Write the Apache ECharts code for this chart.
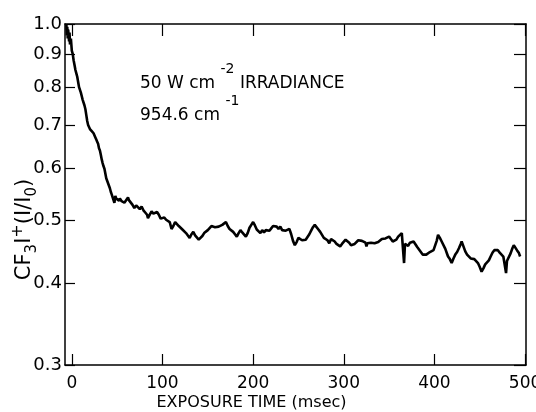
<!DOCTYPE html>
<html>
<head>
<meta charset="utf-8">
<script src="https://cdn.jsdelivr.net/npm/echarts@6/dist/echarts.min.js"></script>
<style>html,body{margin:0;padding:0;background:#fff}#c{width:536px;height:412px}</style>
</head>
<body>
<div id="c"></div>
<script>
var xTicks = [0, 100, 200, 300, 400, 500];
var yTicks = [0.3, 0.4, 0.5, 0.6, 0.7, 0.8, 0.9, 1.0];
var times = [-6,-5.5,-5,-4.5,-4,-3,-2.5,-2,-1,0,1,2,3,4,5,6,7,8,9,10,11,12,13,14,15,16,17,18,19,20,22,24,25,26,27,28,29,30,31,32,33,34,35,36,37,38,39,40,41,42,43,44,45,46,47,48,49,50,52,53,55,56,58,60,62,63,65,67,69,71,73,75,77,79,81,83,84,86,88,90,92,94,96,98,100,
102,104,106,108,110,112,114,116,118,120,122,124,126,128,130,132,134,136,138,140,142,144,146,148,150,152,154,156,158,160,162,164,166,168,170,172,174,176,178,180,182,184,186,188,190,192,194,196,198,200,
202,204,206,208,210,212,214,216,218,220,222,224,226,228,230,232,234,236,238,240,242,244,246,248,250,252,254,256,258,260,262,264,266,268,270,272,274,276,278,280,282,284,286,288,290,292,294,296,298,300,
302,304,306,308,310,312,314,316,318,320,322,324,325,326,328,330,332,334,336,338,340,342,344,346,348,350,352,354,356,358,360,362,364,365.5,366.5,367.5,369,371,373,375,377,379,381,383,385,387,389,391,393,395,397,399,401,402.5,404,406,408,410,412,414,415,417,419,421,423,425,427,429,430,432,434,436,438,440,442,444,446,448,450,452,454,456,458,460,462,464,466,468,470,472,474,476,478,479,480,482,484,486,487.5,489,491,493,494.5];
var ratio = [1.0,0.96,0.99,0.95,0.98,0.94,0.97,0.93,0.95,0.91,0.90,0.88,0.865,0.85,0.84,0.83,0.815,0.80,0.795,0.785,0.775,0.765,0.76,0.75,0.74,0.725,0.71,0.70,0.695,0.69,0.685,0.68,0.676,0.67,0.665,0.66,0.655,0.645,0.64,0.63,0.62,0.612,0.605,0.6,0.59,0.58,0.575,0.57,0.565,0.56,0.553,0.548,0.545,0.55,0.532,0.545,0.54,0.542,0.536,0.54,0.535,0.538,0.532,0.531,0.542,0.537,0.534,0.528,0.522,0.527,0.524,0.52,0.525,0.518,0.514,0.51,0.504,0.51,0.516,0.512,0.509,0.515,0.51,0.503,0.5,
0.505,0.501,0.498,0.497,0.485,0.49,0.497,0.494,0.49,0.487,0.484,0.483,0.478,0.474,0.47,0.476,0.48,0.474,0.472,0.467,0.469,0.473,0.478,0.476,0.483,0.486,0.49,0.492,0.488,0.491,0.489,0.487,0.492,0.495,0.497,0.49,0.485,0.482,0.48,0.476,0.472,0.478,0.483,0.479,0.476,0.472,0.478,0.487,0.492,0.497,
0.491,0.484,0.481,0.478,0.483,0.479,0.483,0.486,0.482,0.486,0.49,0.487,0.489,0.485,0.489,0.483,0.48,0.482,0.479,0.485,0.476,0.465,0.458,0.463,0.47,0.472,0.466,0.464,0.467,0.47,0.476,0.482,0.488,0.492,0.489,0.484,0.48,0.475,0.47,0.473,0.466,0.461,0.468,0.469,0.464,0.46,0.462,0.456,0.46,0.463,
0.467,0.464,0.462,0.458,0.456,0.46,0.463,0.466,0.467,0.465,0.466,0.462,0.456,0.461,0.463,0.462,0.463,0.461,0.461,0.463,0.465,0.468,0.467,0.469,0.471,0.472,0.468,0.464,0.461,0.467,0.472,0.475,0.478,0.48,0.43,0.46,0.461,0.457,0.462,0.46,0.464,0.461,0.455,0.451,0.448,0.443,0.44,0.443,0.446,0.447,0.447,0.45,0.453,0.465,0.475,0.47,0.464,0.461,0.452,0.444,0.44,0.436,0.43,0.437,0.443,0.447,0.453,0.46,0.464,0.456,0.448,0.443,0.44,0.437,0.439,0.436,0.434,0.43,0.424,0.417,0.422,0.428,0.43,0.434,0.44,0.446,0.45,0.453,0.45,0.446,0.443,0.44,0.437,0.415,0.433,0.434,0.445,0.453,0.458,0.455,0.45,0.446,0.44];

var FONT = "'DejaVu Sans', sans-serif";
var pts = times.map(function (t, i) { return [t, ratio[i]]; });
var chart = echarts.init(document.getElementById('c'), null, {renderer: 'canvas'});
var axLine = {show: true, onZero: false, lineStyle: {color: '#000', width: 1.5}};
chart.setOption({
  animation: false,
  backgroundColor: '#fff',
  grid: {left: 65, right: 10, top: 24, bottom: 47, containLabel: false, outerBoundsMode: 'none'},
  xAxis: [{
    type: 'value', min: -7.5, max: 501, position: 'bottom',
    axisLine: axLine, splitLine: {show: false},
    axisTick: {inside: true, length: 11, customValues: xTicks, lineStyle: {color: '#000', width: 1.2}},
    axisLabel: {customValues: xTicks, margin: 10, color: '#000', fontSize: 17, fontFamily: FONT},
    name: 'EXPOSURE TIME (msec)', nameLocation: 'middle', nameGap: 30, nameMoveOverlap: false,
    nameTextStyle: {color: '#000', fontSize: 16, fontFamily: FONT, padding: [0, 88, 0, 0]}
  }, {
    type: 'value', min: -7.5, max: 501, position: 'top',
    axisLine: axLine, splitLine: {show: false},
    axisTick: {inside: true, length: 12, customValues: xTicks, lineStyle: {color: '#000', width: 1.2}},
    axisLabel: {show: false}
  }],
  yAxis: [{
    type: 'log', logBase: 10, min: 0.3, max: 1.0, position: 'left',
    axisLine: axLine, splitLine: {show: false}, minorTick: {show: false},
    axisTick: {inside: true, length: 10, customValues: yTicks, lineStyle: {color: '#000', width: 1.2}},
    axisLabel: {customValues: yTicks, margin: 3, color: '#000', fontSize: 18, fontFamily: FONT,
      formatter: function (v) { return Number(v).toFixed(1); }},
    name: '{m|CF}{sb|3}{m|I}{sp|+}{m|(I/I}{sb|0}{m|)}', nameLocation: 'middle', nameGap: 25, nameMoveOverlap: false,
    nameTextStyle: {color: '#000', fontFamily: FONT, padding: [0, 70, 0, 0],
      rich: {
        m: {fontSize: 21, fontFamily: FONT, color: '#000', lineHeight: 30, verticalAlign: 'middle'},
        sb: {fontSize: 15, fontFamily: FONT, color: '#000', lineHeight: 30, verticalAlign: 'bottom'},
        sp: {fontSize: 16, fontFamily: FONT, color: '#000', lineHeight: 30, verticalAlign: 'top'}
      }}
  }, {
    type: 'log', logBase: 10, min: 0.3, max: 1.0, position: 'right',
    axisLine: axLine, splitLine: {show: false}, minorTick: {show: false},
    axisTick: {inside: true, length: 12, customValues: yTicks, lineStyle: {color: '#000', width: 1.2}},
    axisLabel: {show: false}
  }],
  graphic: [{
    type: 'text', left: 140, top: 62,
    style: {
      text: '{m|50 W cm }{sp|-2}{m| IRRADIANCE}',
      font: '17px "DejaVu Sans", sans-serif', fontSize: 17, fontFamily: FONT, fill: '#000',
      rich: {
        m: {font: '17px "DejaVu Sans", sans-serif', fontSize: 17, fontFamily: FONT, fill: '#000', lineHeight: 30, verticalAlign: 'bottom'},
        sp: {font: '14px "DejaVu Sans", sans-serif', fontSize: 14, fontFamily: FONT, fill: '#000', lineHeight: 30, verticalAlign: 'top'}
      }
    }
  }, {
    type: 'text', left: 140, top: 94,
    style: {
      text: '{m|954.6 cm }{sp|-1}',
      font: '17px "DejaVu Sans", sans-serif', fontSize: 17, fontFamily: FONT, fill: '#000',
      rich: {
        m: {font: '17px "DejaVu Sans", sans-serif', fontSize: 17, fontFamily: FONT, fill: '#000', lineHeight: 30, verticalAlign: 'bottom'},
        sp: {font: '14px "DejaVu Sans", sans-serif', fontSize: 14, fontFamily: FONT, fill: '#000', lineHeight: 30, verticalAlign: 'top'}
      }
    }
  }],
  series: [{
    type: 'line', xAxisIndex: 0, yAxisIndex: 0, data: pts,
    showSymbol: false, symbol: 'none', smooth: false,
    lineStyle: {color: '#000', width: 2.6}, z: 3
  }]
});
</script>
</body>
</html>
